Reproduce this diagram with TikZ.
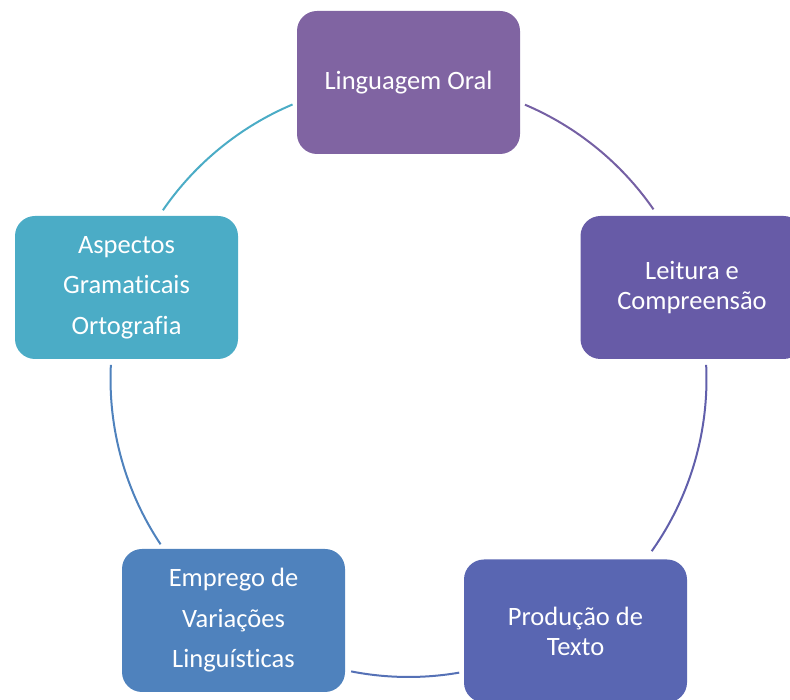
\documentclass[tikz,border=0pt]{standalone}
\usepackage{fontspec}
\setmainfont{Carlito}[Ligatures=CommonOff]
\usepackage{tikz}
\definecolor{cOral}{HTML}{8064A2}
\definecolor{cLeit}{HTML}{675BA7}
\definecolor{cProd}{HTML}{5966B2}
\definecolor{cEmpr}{HTML}{4F82BD}
\definecolor{cAspe}{HTML}{4BACC6}

\begin{document}
\begin{tikzpicture}[x=1pt,y=1pt]
\pgfmathsetmacro{\rCyc}{298}

\tikzstyle{box}=[rounded corners=20pt,minimum width=223pt,minimum height=143pt,inner sep=0pt,align=center,text=white,font=\fontsize{26.5}{30}\selectfont]
\tikzstyle{tall}=[font=\fontsize{26.5}{40.5}\selectfont]
\tikzstyle{link}=[line width=2pt]
\useasboundingbox (0,0) rectangle (790,700);
\clip (0,0) rectangle (790,700);
\coordinate (ctr) at (408.5,321);
\draw[link,cOral!55!cLeit] (ctr) ++(67:\rCyc) arc[start angle=67,end angle=34.7,radius=\rCyc];
\draw[link,cLeit!60!cProd] (ctr) ++(2.7:\rCyc) arc[start angle=2.7,end angle=-35.3,radius=\rCyc];
\draw[link,cProd!60!cEmpr] (ctr) ++(-80.2:\rCyc) arc[start angle=-80.2,end angle=-101.1,radius=\rCyc];
\draw[link,cEmpr] (ctr) ++(177.3:\rCyc) arc[start angle=177.3,end angle=213.7,radius=\rCyc];
\draw[link,cAspe] (ctr) ++(145.5:\rCyc) arc[start angle=145.5,end angle=112.9,radius=\rCyc];
\node[box,fill=cOral] (oral) at (408.5,617.5) {Linguagem Oral};
\node[box,fill=cLeit] (leit) at (692,412.5) {Leitura e\\Compreensão};
\node[box,fill=cProd] (prod) at (575.5,69) {Produção de\\Texto};
\node[box,tall,fill=cEmpr] (empr) at (233.5,79.5) {Emprego de\\Variações\\Linguísticas};
\node[box,tall,fill=cAspe] (aspe) at (126.5,412.5) {Aspectos\\Gramaticais\\Ortografia};
\end{tikzpicture}
\end{document}
